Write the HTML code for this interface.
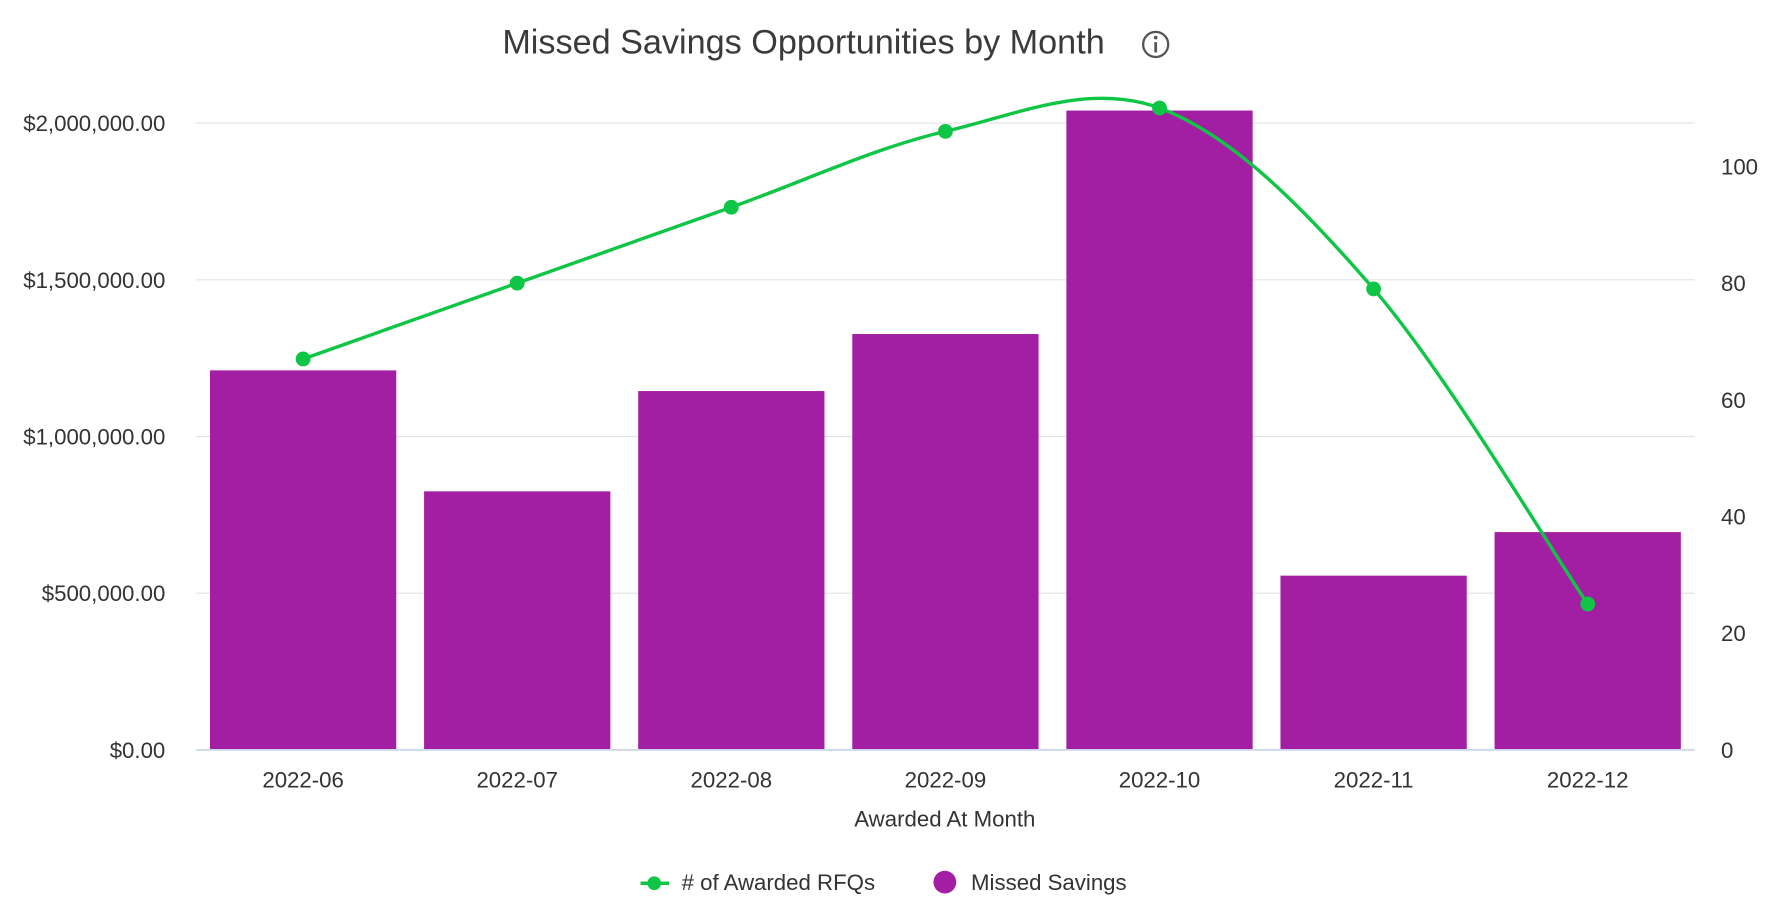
<!DOCTYPE html>
<html><head><meta charset="utf-8"><style>
html,body{margin:0;padding:0;background:#fff;}
svg{display:block;font-family:"Liberation Sans",Arial,sans-serif;}
</style></head><body>
<svg id="chart" width="1778" height="922" viewBox="0 0 1560 809" xmlns="http://www.w3.org/2000/svg">
<text x="705" y="47" text-anchor="middle" font-size="30" fill="#3a3a3a">Missed Savings Opportunities by Month</text>
<g>
<circle cx="1014" cy="39" r="11" fill="none" stroke="#555" stroke-width="2"/>
<circle cx="1014" cy="33" r="1.6" fill="#555"/>
<rect x="1012.8" y="37" width="2.4" height="9" fill="#555"/>
</g>
<g id="grid"></g><g id="bars"></g><g id="line"></g><g id="axes"></g>
<text x="829" y="725" text-anchor="middle" font-size="19.5" fill="#333">Awarded At Month</text>
<g>
<line x1="562" y1="775" x2="587" y2="775" stroke="#0fc545" stroke-width="3"/>
<circle cx="574" cy="775" r="6" fill="#0fc545"/>
<text x="598" y="781" font-size="19.5" fill="#333"># of Awarded RFQs</text>
</g>
<g>
<circle cx="829" cy="774" r="10" fill="#a21fa3"/>
<text x="852" y="781" font-size="19.5" fill="#333">Missed Savings</text>
</g>
</svg>
<script>
const categories=["2022-06","2022-07","2022-08","2022-09","2022-10","2022-11","2022-12"];
const savings=[1211000,825000,1145000,1327000,2040000,556000,695000];
const rfqs=[67,80,93,106,110,79,25];
const leftTicks=[0,500000,1000000,1500000,2000000];
const leftTickLabels=["$0.00","$500,000.00","$1,000,000.00","$1,500,000.00","$2,000,000.00"];
const rightTicks=[0,20,40,60,80,100];

const NS="http://www.w3.org/2000/svg";
const L=172,R=1487,B=658;
const yL=v=>B-v/2000000*550;
const yR=v=>B-v/100*512;
const bw=(R-L)/categories.length;
const xC=i=>L+bw*(i+0.5);
function mk(t,a,p){const e=document.createElementNS(NS,t);for(const k in a)e.setAttribute(k,a[k]);p.appendChild(e);return e;}
const grid=document.getElementById('grid'),bars=document.getElementById('bars'),line=document.getElementById('line'),axes=document.getElementById('axes');
leftTicks.forEach((v,i)=>{
  if(v>0){const g=mk('line',{x1:L,x2:R,y1:yL(v),y2:yL(v),stroke:'#e2e2e2','stroke-width':1},grid);
  
  }
  const t=mk('text',{x:145,y:yL(v)+7,'text-anchor':'end','font-size':19.5,fill:'#333'},axes);
  t.textContent=leftTickLabels[i];
  
  
});
rightTicks.forEach(v=>{
  const t=mk('text',{x:1510,y:yR(v)+7,'font-size':19.5,fill:'#333'},axes);
  t.textContent=v;
  
  
});
const base=mk('line',{x1:L,x2:R,y1:B,y2:B,stroke:'#ccd6eb','stroke-width':1.5},axes);


categories.forEach((c,i)=>{
  const w=bw*0.87;
  const r=mk('rect',{x:xC(i)-w/2,y:yL(savings[i]),width:w,height:B-yL(savings[i]),fill:'#a21fa3'},bars);
  
  
  const t=mk('text',{x:xC(i),y:691,'text-anchor':'middle','font-size':19.5,fill:'#333'},axes);
  t.textContent=c;
  
  
});
const pts=rfqs.map((v,i)=>[xC(i),yR(v)]);
let d='M'+pts[0][0]+','+pts[0][1];
for(let i=0;i<pts.length-1;i++){
  const p0=pts[Math.max(0,i-1)],p1=pts[i],p2=pts[i+1],p3=pts[Math.min(pts.length-1,i+2)];
  const k=1/6;
  const c1=[p1[0]+(p2[0]-p0[0])*k,p1[1]+(p2[1]-p0[1])*k];
  const c2=[p2[0]-(p3[0]-p1[0])*k,p2[1]-(p3[1]-p1[1])*k];
  d+=' C'+c1+' '+c2+' '+p2;
}
const path=mk('path',{d:d,fill:'none',stroke:'#0fc545','stroke-width':3},line);


pts.forEach((p,i)=>{
  const c=mk('circle',{cx:p[0],cy:p[1],r:6.5,fill:'#0fc545'},line);
  
  
});
</script>
</body></html>
